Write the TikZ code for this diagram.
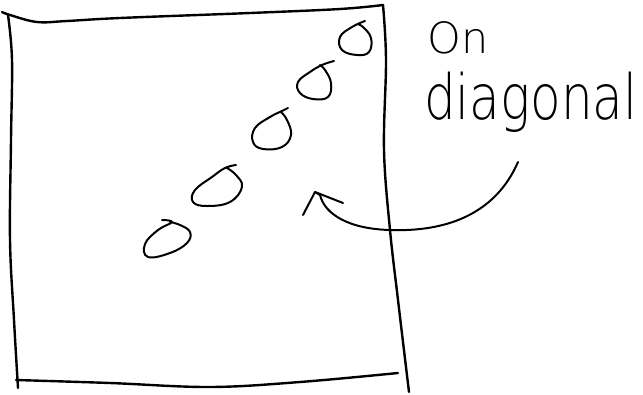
\documentclass[tikz,border=0pt]{standalone}
\usepackage{fontspec}
\usepackage{graphicx}
\newfontfamily\handfont{DejaVu Sans ExtraLight}
\begin{document}
\begin{tikzpicture}[x=1pt,y=-1pt, line cap=round, line join=round,
  edge/.style={line width=2.4pt},
  sig/.style={line width=2pt},
  arr/.style={line width=2pt},
  lbl/.style={font=\handfont, inner sep=0pt, anchor=base west}]
\useasboundingbox[fill=white] (0,0) rectangle (643,394);
% square (hand drawn)
\draw[edge] plot[smooth, tension=0.6] coordinates {(2,12) (10,15) (37,22) (67,21) (120,18) (250,13) (340,9) (383,5)};
\draw[edge] plot[smooth, tension=0.6] coordinates {(383,5) (386,60) (384,150) (390,230) (398,300) (409,392)};
\draw[edge] plot[smooth, tension=0.6] coordinates {(8,15) (12,60) (11,140) (10,240) (14,320) (18,388)};
\draw[edge] plot[smooth, tension=0.6] coordinates {(16,380) (110,383) (210,387) (300,382) (398,373)};
% sigmas along the diagonal
\draw[sig] plot[smooth, tension=0.7] coordinates {(365,21) (352,27) (340,37) (342,50) (357,55) (369,52) (371,38) (363,27) (357,24)};
\draw[sig] plot[smooth, tension=0.7] coordinates {(334,61) (322,65) (310,72) (298,82) (300,93) (313,99) (328,97) (331,83) (325,70) (320,65)};
\draw[sig] plot[smooth, tension=0.7] coordinates {(288,108) (282,111) (270,117) (255,128) (253,142) (263,149) (282,147) (291,135) (287,120) (281,112)};
\draw[sig] plot[smooth, tension=0.7] coordinates {(236,165) (225,168) (212,177) (195,190) (193,202) (207,206) (230,202) (242,187) (236,175) (227,168)};
\draw[sig] plot[smooth, tension=0.7] coordinates {(162,220) (172,222) (158,230) (145,244) (148,257) (170,253) (187,243) (190,232) (180,225) (170,222)};
% label
\node[lbl, font=\handfont\fontsize{43}{43}\selectfont] (on) at (427,53) {On};
\node[lbl, font=\handfont\fontsize{50}{50}\selectfont] (diag) at (424,119) {\scalebox{1}[1.25]{diagonal}};
% arrow
\coordinate (start) at (518,162);
\coordinate (tip) at (315,192);
\coordinate (hl) at (303,215);
\coordinate (hr) at (343,203);
\draw[arr] (start) .. controls (495,215) and (445,232) .. (390,230)
  .. controls (350,229) and (325,215) .. (320,195) -- (tip);
\draw[arr] (hl) -- (tip) -- (hr);
\end{tikzpicture}
\end{document}
